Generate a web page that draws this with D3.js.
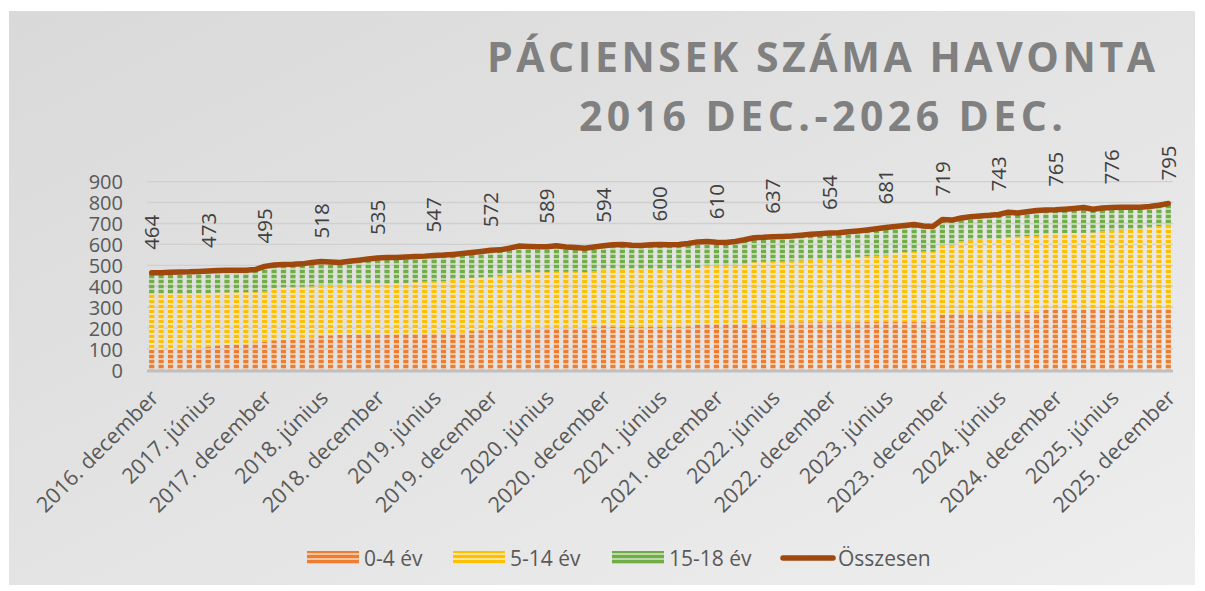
<!DOCTYPE html>
<html>
<head>
<meta charset="utf-8">
<script src="https://cdn.jsdelivr.net/npm/d3@7"></script>
<style>
  body { margin: 0; background: #fff; }
  svg { display: block; font-family: "Open Sans", sans-serif; }
</style>
</head>
<body>
<div id="chart"></div>
<script>
// categories: 2016. december .. 2025. december, monthly
var monthNames = ["január", "február", "március", "április", "május", "június",
  "július", "augusztus", "szeptember", "október", "november", "december"];
var categories = ["2016. december"];
for (var yr = 2017; yr <= 2025; yr++) {
  monthNames.forEach(function(m) { categories.push(yr + ". " + m); });
}

var age0to4 = [97, 96, 96, 98, 102, 104, 112, 115, 120, 123, 124, 132, 135, 142, 143, 145, 150, 152,
  165, 166, 168, 169, 170, 170, 171, 170, 171, 172, 172, 173, 174, 175, 176, 178, 186, 190,
  194, 195, 198, 199, 199, 200, 200, 199, 200, 199, 200, 208, 210, 208, 205, 206, 205, 207,
  206, 206, 207, 209, 218, 219, 220, 219, 220, 221, 225, 226, 224, 226, 227, 228, 228, 229,
  228, 229, 228, 229, 230, 229, 230, 231, 230, 231, 230, 230, 266, 268, 272, 274, 275, 276,
  276, 277, 276, 277, 276, 288, 289, 290, 289, 290, 291, 290, 291, 290, 291, 290, 291, 290, 291];

var age5to14 = [266, 268, 268, 265, 262, 261, 253, 255, 251, 248, 248, 241, 240, 248, 252, 252, 248, 248,
  241, 240, 240, 241, 241, 241, 241, 241, 241, 242, 248, 249, 249, 250, 256, 256, 254, 253,
  251, 255, 265, 266, 267, 267, 268, 271, 269, 271, 268, 264, 270, 273, 275, 276, 276, 273,
  276, 277, 275, 277, 269, 281, 282, 282, 283, 284, 290, 291, 294, 292, 295, 296, 297, 297,
  299, 299, 302, 311, 314, 317, 318, 329, 333, 334, 336, 335, 331, 330, 343, 346, 347, 348,
  349, 359, 362, 363, 365, 362, 363, 363, 365, 365, 365, 375, 376, 378, 379, 380, 393, 398, 402];

var age15to18 = [101, 101, 103, 105, 105, 106, 108, 105, 105, 105, 105, 107, 120, 112, 109, 108, 109, 114,
  112, 110, 106, 109, 113, 119, 123, 126, 126, 126, 122, 122, 124, 124, 120, 122, 121, 123,
  127, 124, 119, 127, 124, 122, 121, 124, 119, 115, 114, 116, 114, 117, 119, 114, 114, 118,
  118, 115, 118, 118, 125, 114, 108, 108, 111, 117, 117, 117, 119, 120, 118, 120, 123, 125,
  127, 128, 130, 124, 125, 129, 133, 125, 127, 130, 122, 121, 122, 118, 111, 112, 114, 115,
  118, 118, 112, 116, 121, 114, 113, 115, 118, 121, 112, 109, 109, 110, 108, 108, 97, 99, 102];

var total = [464, 465, 467, 468, 469, 471, 473, 475, 476, 476, 477, 480, 495, 502, 504, 505, 507, 514,
  518, 516, 514, 519, 524, 530, 535, 537, 538, 540, 542, 544, 547, 549, 552, 556, 561, 566,
  572, 574, 582, 592, 590, 589, 589, 594, 588, 585, 582, 588, 594, 598, 599, 596, 595, 598,
  600, 598, 600, 604, 612, 614, 610, 609, 614, 622, 632, 634, 637, 638, 640, 644, 648, 651,
  654, 656, 660, 664, 669, 675, 681, 685, 690, 695, 688, 686, 719, 716, 726, 732, 736, 739,
  743, 754, 750, 756, 762, 764, 765, 768, 772, 776, 768, 774, 776, 778, 778, 778, 781, 787, 795];

var seriesKeys = ["a04", "a514", "a1518"];
var seriesNames = ["0-4 év", "5-14 év", "15-18 év"];
var lineName = "Összesen";
var yTicks = [0, 100, 200, 300, 400, 500, 600, 700, 800, 900];
var labelStep = 6;

var svgWidth = 1205;
var svgHeight = 591;
var plot = { left: 147, right: 1173, top: 181.6, bottom: 370 };

var colors = {
  a04: { main: "#ed7d31", light: "#f7c4a0" },
  a514: { main: "#ffc000", light: "#ffe49a" },
  a1518: { main: "#70ad47", light: "#bcd9a8" }
};

var rows = categories.map(function(c, i) {
  return { cat: c, a04: age0to4[i], a514: age5to14[i], a1518: age15to18[i], total: total[i] };
});

var svg = d3.select("#chart")
  .append("svg")
  .attr("width", svgWidth)
  .attr("height", svgHeight);

var defs = svg.append("defs");
var grad = defs.append("linearGradient")
  .attr("id", "bg")
  .attr("x1", "0").attr("y1", "0").attr("x2", "1").attr("y2", "1");
grad.append("stop").attr("offset", "0").attr("stop-color", "#d9d9d9");
grad.append("stop").attr("offset", "1").attr("stop-color", "#eeeeee");

seriesKeys.forEach(function(k) {
  var p = defs.append("pattern")
    .attr("id", "pat-" + k)
    .attr("patternUnits", "userSpaceOnUse")
    .attr("width", 8).attr("height", 5);
  p.append("rect").attr("width", 8).attr("height", 5).attr("fill", colors[k].light);
  p.append("rect").attr("width", 8).attr("height", 3).attr("fill", colors[k].main);
});

// background panel
svg.append("rect")
  .attr("x", 9).attr("y", 11)
  .attr("width", 1186).attr("height", 574)
  .attr("fill", "url(#bg)");

// title
var title = svg.append("g")
  .attr("fill", "#808080")
  .attr("font-weight", 700)
  .attr("font-size", 41)
  .attr("text-anchor", "middle");
title.append("text")
  .attr("x", 821).attr("y", 72)
  .attr("textLength", 668).attr("lengthAdjust", "spacing")
  .text("PÁCIENSEK SZÁMA HAVONTA");
title.append("text")
  .attr("x", 821).attr("y", 131)
  .attr("textLength", 484).attr("lengthAdjust", "spacing")
  .text("2016 DEC.-2026 DEC.");

var xScale = d3.scaleBand()
  .domain(categories)
  .range([plot.left, plot.right])
  .paddingInner(0.45)
  .paddingOuter(0.225);

var yScale = d3.scaleLinear()
  .domain([0, 900])
  .range([plot.bottom, plot.top]);

// gridlines
svg.append("g")
  .selectAll("line")
  .data(yTicks.filter(function(t) { return t > 0; }))
  .enter()
  .append("line")
  .attr("x1", plot.left).attr("x2", plot.right)
  .attr("y1", function(d) { return yScale(d); })
  .attr("y2", function(d) { return yScale(d); })
  .attr("stroke", "#d0d0d0")
  .attr("stroke-width", 1.4);

// y axis labels
var leftAxis = d3.axisLeft(yScale).tickValues(yTicks).tickSize(0).tickPadding(0);
var yAxisG = svg.append("g")
  .attr("transform", "translate(123,0)")
  .call(leftAxis);
yAxisG.select(".domain").remove();
yAxisG.selectAll("text")
  .attr("font-family", "'Open Sans', sans-serif")
  .attr("font-size", 20)
  .attr("fill", "#595959")
  .attr("dy", "0.36em");

// stacked bars
var stack = d3.stack().keys(seriesKeys);
var stacked = stack(rows);

svg.append("g")
  .selectAll("g")
  .data(stacked)
  .enter()
  .append("g")
  .attr("fill", function(d) { return "url(#pat-" + d.key + ")"; })
  .selectAll("rect")
  .data(function(d) { return d; })
  .enter()
  .append("rect")
  .attr("x", function(d) { return xScale(d.data.cat); })
  .attr("width", xScale.bandwidth())
  .attr("y", function(d) { return yScale(d[1]); })
  .attr("height", function(d) { return yScale(d[0]) - yScale(d[1]); });

// baseline
svg.append("line")
  .attr("x1", plot.left).attr("x2", plot.right)
  .attr("y1", plot.bottom + 1).attr("y2", plot.bottom + 1)
  .attr("stroke", "#bfbfbf")
  .attr("stroke-width", 3);

// x axis labels
var shown = categories.filter(function(c, i) { return i % labelStep === 0; });
var bottomAxis = d3.axisBottom(xScale).tickValues(shown).tickSize(0);
var xAxisG = svg.append("g")
  .attr("transform", "translate(0," + plot.bottom + ")")
  .call(bottomAxis);
xAxisG.select(".domain").remove();
xAxisG.selectAll("text")
  .attr("font-family", "'Open Sans', sans-serif")
  .attr("font-size", 21.5)
  .attr("fill", "#595959")
  .attr("text-anchor", "end")
  .attr("x", 0).attr("y", 0).attr("dy", "0.35em")
  .attr("transform", "translate(3,24) rotate(-45)");

// total line
var line = d3.line()
  .x(function(d) { return xScale(d.cat) + xScale.bandwidth() / 2; })
  .y(function(d) { return yScale(d.total); });

svg.append("path")
  .datum(rows)
  .attr("d", line)
  .attr("fill", "none")
  .attr("stroke", "#9e480e")
  .attr("stroke-width", 5.5)
  .attr("stroke-linejoin", "round")
  .attr("stroke-linecap", "round");

// data labels
svg.append("g")
  .selectAll("text")
  .data(rows.filter(function(d, i) { return i % labelStep === 0; }))
  .enter()
  .append("text")
  .attr("transform", function(d) {
    var cx = xScale(d.cat) + xScale.bandwidth() / 2;
    return "translate(" + cx + "," + (yScale(d.total) - 23) + ") rotate(-90)";
  })
  .attr("dy", "0.36em")
  .attr("font-size", 20.5)
  .attr("fill", "#404040")
  .text(function(d) { return d.total; });

// legend
var legendY = 558;
var legendItems = [
  { key: "a04", name: seriesNames[0], x: 307 },
  { key: "a514", name: seriesNames[1], x: 453 },
  { key: "a1518", name: seriesNames[2], x: 612 },
  { key: "line", name: lineName, x: 781 }
];
var legend = svg.append("g");
legendItems.forEach(function(it) {
  if (it.key === "line") {
    legend.append("line")
      .attr("x1", it.x + 2).attr("x2", it.x + 52)
      .attr("y1", legendY).attr("y2", legendY)
      .attr("stroke", "#9e480e")
      .attr("stroke-width", 5.5)
      .attr("stroke-linecap", "round");
  } else {
    legend.append("rect")
      .attr("x", it.x).attr("y", legendY - 7)
      .attr("width", 52).attr("height", 13)
      .attr("fill", "url(#pat-" + it.key + ")");
  }
  legend.append("text")
    .attr("x", it.x + 57).attr("y", legendY)
    .attr("dy", "0.36em")
    .attr("font-size", 21)
    .attr("fill", "#595959")
    .text(it.name);
});
</script>
</body>
</html>
